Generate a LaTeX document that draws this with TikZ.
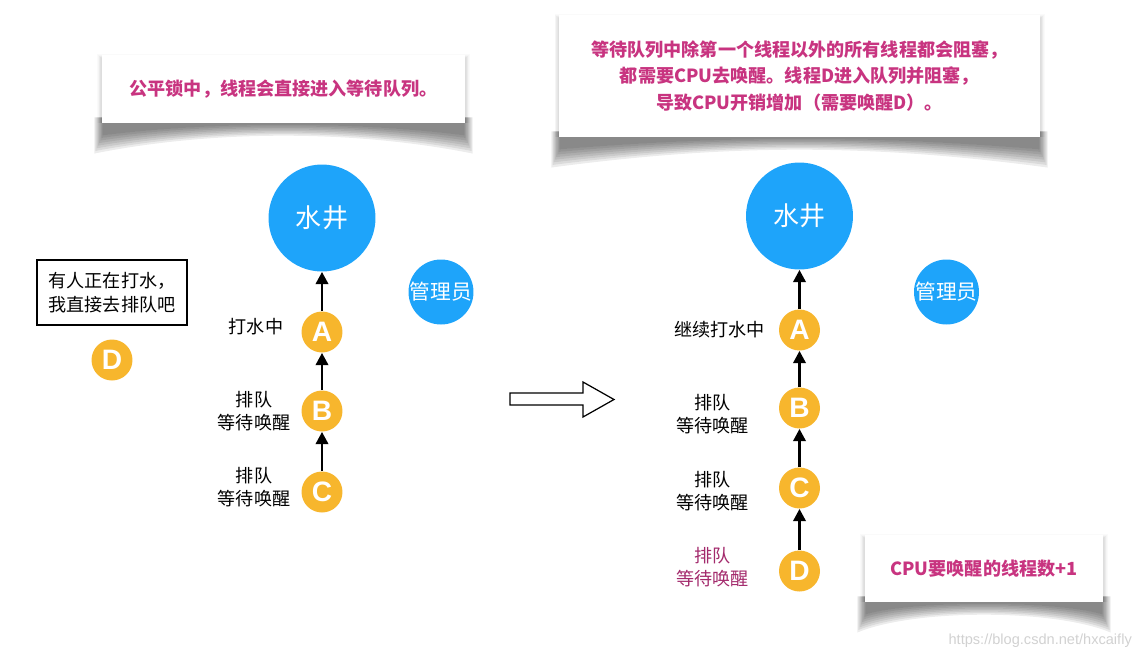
\documentclass[tikz,border=0pt]{standalone}
\usepackage{fontspec}
\setmainfont{Noto Sans CJK SC}
\newfontfamily\latinsans{Liberation Sans}
\usepackage{tikz}
\usetikzlibrary{arrows.meta,positioning,calc,backgrounds}
\definecolor{wblue}{RGB}{30,164,250}
\definecolor{worange}{RGB}{247,182,45}
\definecolor{wpink}{RGB}{200,52,128}
\definecolor{wplum}{RGB}{163,42,108}
\newcommand{\liftshadow}[1]{%
  \begin{scope}[on background layer]
    \foreach \s in {0,...,7}{
      \fill[black, opacity=0.075]
        ($(#1.south west)+(1-1.2*\s,-6)$) -- ($(#1.south west)+(1-1.2*\s,12+2.6*\s)$)
        .. controls ($(#1.south)+(-70,-2+1.2*\s)$) and ($(#1.south)+(70,-2+1.2*\s)$) ..
        ($(#1.south east)+(-1+1.2*\s,12+2.6*\s)$) -- ($(#1.south east)+(-1+1.2*\s,-6)$) -- cycle;
      \fill[black, opacity=0.018]
        ($(#1.north west)+(-0.6*\s,4-0.6*\s)$) rectangle ($(#1.south east)+(0.6*\s,0)$);
    }
  \end{scope}}
\tikzset{
  well/.style  ={circle, fill=wblue, text=white, minimum size=2.14cm, inner sep=0pt,
                 font=\fontsize{14.8}{16}\selectfont},
  admin/.style ={circle, fill=wblue, text=white, minimum size=1.3cm, inner sep=0pt,
                 font=\fontsize{11.8}{13}\selectfont},
  thr/.style   ={circle, fill=worange, text=white, minimum size=0.82cm, inner sep=0pt,
                 font=\latinsans\bfseries\fontsize{16}{16}\selectfont},
  lbl/.style   ={align=center, font=\fontsize{10.3}{13.5}\selectfont},
  note/.style  ={rectangle, fill=white, align=center,
                 text=wpink, font=\bfseries\fontsize{10.3}{15}\selectfont},
  saybox/.style={rectangle, draw=black, line width=0.7pt, align=left,
                 minimum width=3cm, minimum height=1.3cm,
                 font=\fontsize{10.3}{14}\selectfont},
  ar/.style    ={-{Triangle[length=7pt,width=7pt]}, line width=1.6pt}
}
\begin{document}
\begin{tikzpicture}[x=0.02cm, y=-0.02cm]
\useasboundingbox (0,0) rectangle (1147,660);
\node[note, minimum width=7.26cm, minimum height=1.36cm] (fair) at (283.5,89)
  {公平锁中，线程会直接进入等待队列。};
\liftshadow{fair}
\node[saybox] (say) at (112,292.5) {有人正在打水，\\我直接去排队吧};
\node[thr] (ld) at (112,360) {D};
\node[well] (lwell) at (322,218) {水井};
\node[admin] (ladmin) at (441,292) {管理员};
\node[thr] (la) at (322,332) {A};
\node[thr] (lb) at (322,411) {B};
\node[thr] (lc) at (322,492) {C};
\node[lbl] (lal) at (256,327) {打水中};
\node[lbl] (lbl) at (254,411) {排队\\等待唤醒};
\node[lbl] (lcl) at (254,487) {排队\\等待唤醒};
\draw[ar] (la) -- (lwell);
\draw[ar] (lb) -- (la);
\draw[ar] (lc) -- (lb);
\draw[line width=0.7pt, fill=white] (510,393) -- (583,393) -- (583,382) -- (614,399.5)
  -- (583,417) -- (583,405) -- (510,405) -- cycle;
\node[note, minimum width=9.62cm, minimum height=2.44cm] (cpu) at (799.5,76)
  {等待队列中除第一个线程以外的所有线程都会阻塞，\\
   都需要CPU去唤醒。线程D进入队列并阻塞，\\
   导致CPU开销增加（需要唤醒D）。};
\liftshadow{cpu}
\node[well] (rwell) at (799.5,216) {水井};
\node[admin] (radmin) at (946.5,292) {管理员};
\node[thr] (ra) at (799.5,330) {A};
\node[thr] (rb) at (799.5,408) {B};
\node[thr] (rc) at (799.5,488) {C};
\node[thr] (rd) at (799.5,571) {D};
\node[lbl] (ral) at (719.5,330) {继续打水中};
\node[lbl] (rbl) at (712.5,414) {排队\\等待唤醒};
\node[lbl] (rcl) at (712.5,491) {排队\\等待唤醒};
\node[lbl, text=wplum] (rdl) at (712.5,567) {排队\\等待唤醒};
\draw[ar] (ra) -- (rwell);
\draw[ar] (rb) -- (ra);
\draw[ar] (rc) -- (rb);
\draw[ar] (rd) -- (rc);
\node[note, minimum width=4.76cm, minimum height=1.34cm] (plus) at (984,568.5)
  {CPU要唤醒的线程数+1};
\liftshadow{plus}
\node[anchor=east, text=black!18, font=\latinsans\fontsize{8.3}{10}\selectfont]
  (mark) at (1138,641) {https://blog.csdn.net/hxcaifly};
\end{tikzpicture}
\end{document}
